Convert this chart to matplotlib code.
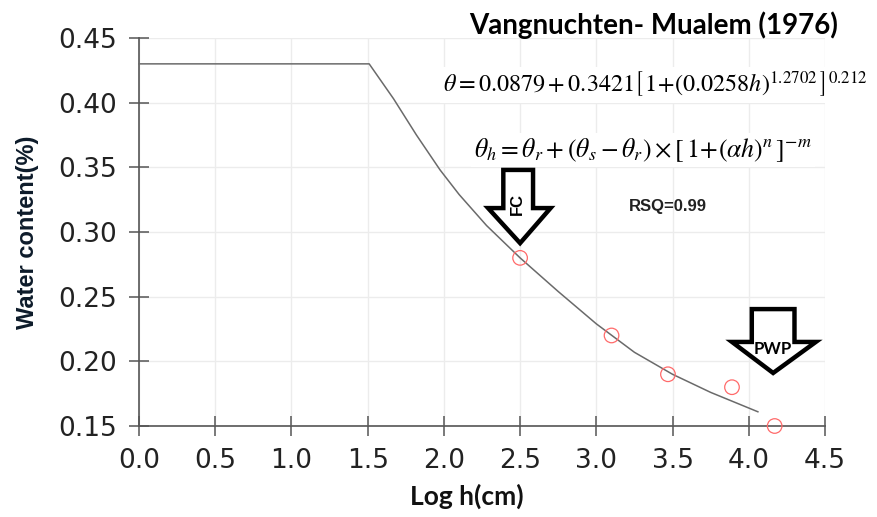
import matplotlib
matplotlib.use("Agg")
import matplotlib.pyplot as plt
from matplotlib.patches import Polygon

# fitted curve
curve_x = [0.0, 1.51, 1.67, 1.82, 1.975, 2.1, 2.28, 2.5, 2.75, 3.0, 3.25, 3.5, 3.75, 4.06]
curve_y = [0.43, 0.43, 0.403, 0.375, 0.348, 0.329, 0.305, 0.28, 0.254, 0.229, 0.207, 0.19, 0.176, 0.161]

# measured points
obs_x = [2.5, 3.1, 3.47, 3.89, 4.17]
obs_y = [0.28, 0.22, 0.19, 0.18, 0.15]

x_ticks = [0.0, 0.5, 1.0, 1.5, 2.0, 2.5, 3.0, 3.5, 4.0, 4.5]
y_ticks = [0.15, 0.20, 0.25, 0.30, 0.35, 0.40, 0.45]

plt.rcParams["mathtext.fontset"] = "stix"

fig = plt.figure(figsize=(8.78, 5.17), dpi=100)
ax = fig.add_axes([0.1583, 0.176, 0.7813, 0.7505])

ax.set_xlim(0, 4.5)
ax.set_ylim(0.15, 0.45)
ax.set_xticks(x_ticks)
ax.set_yticks(y_ticks)
ax.set_xticklabels([f"{v:.1f}" for v in x_ticks])
ax.set_yticklabels([f"{v:.2f}" for v in y_ticks])
ax.grid(True, color="#ececec", linewidth=1)
ax.set_axisbelow(True)

for s in ("top", "right"):
    ax.spines[s].set_visible(False)
for s in ("left", "bottom"):
    ax.spines[s].set_color("#555555")
    ax.spines[s].set_linewidth(1.2)
ax.tick_params(direction="inout", length=14, width=1.1, color="#555555",
               labelsize=19, pad=9, labelcolor="#222222")
for lab in ax.get_xticklabels() + ax.get_yticklabels():
    lab.set_family("DejaVu Sans")

ax.plot(curve_x, curve_y, color="#6a6a6a", linewidth=1.1, clip_on=False, zorder=3)
ax.scatter(obs_x, obs_y, s=110, facecolors="none", edgecolors="#ff6a6a",
           linewidths=0.9, clip_on=False, zorder=4)

ax.set_ylabel("Water content(%)", fontsize=17, fontweight="bold",
              family="Liberation Sans", color="#0d1b2a")
ax.yaxis.set_label_coords(-0.146, 0.5)
ax.set_xlabel("Log h(cm)", fontsize=19, fontweight="bold", family="Lato",
              color="#111111")
ax.xaxis.set_label_coords(0.478, -0.148)

# hollow arrows
def down_arrow(x0, x1, hx0, hx1, tip_x, tip_y, base_y, top_y):
    pts = [(x0, top_y), (x1, top_y), (x1, base_y), (hx1, base_y),
           (tip_x, tip_y), (hx0, base_y), (x0, base_y)]
    ax.add_patch(Polygon(pts, closed=True, facecolor="white", edgecolor="black",
                         linewidth=3.2, joinstyle="miter", zorder=5, clip_on=False))

down_arrow(2.39, 2.585, 2.29, 2.70, 2.50, 0.2914, 0.3185, 0.348)
ax.text(2.485, 0.322, "FC", rotation=90, ha="center", va="center", fontsize=12,
        fontweight="bold", family="Liberation Sans", zorder=6)

down_arrow(4.02, 4.30, 3.89, 4.44, 4.16, 0.191, 0.215, 0.2404)
ax.text(4.16, 0.2095, "PWP", ha="center", va="center", fontsize=12,
        fontweight="bold", family="Lato", zorder=6)

# title and equations
fig.text(654 / 878, 1 - 25 / 517, "Vangnuchten- Mualem (1976)", ha="center",
         va="center", fontsize=20, fontweight="bold", family="Lato")
fig.text(443 / 878, 1 - 85 / 517,
         r"$\theta = 0.0879 + 0.3421\left[\,1\!+\!(0.0258h)^{1.2702}\,\right]^{0.212}$",
         ha="left", va="center", fontsize=17.4,
         bbox=dict(facecolor="white", edgecolor="none", pad=2))
fig.text(643 / 878, 1 - 150 / 517,
         r"$\theta_h = \theta_r + (\theta_s - \theta_r) \times \left[\,1\!+\!(\alpha h)^n\,\right]^{-m}$",
         ha="center", va="center", fontsize=18.5,
         bbox=dict(facecolor="white", edgecolor="none", pad=2))
fig.text(668 / 878, 1 - 207 / 517, "RSQ=0.99", ha="center", va="center",
         fontsize=12, fontweight="bold", family="Liberation Sans", color="#222222")

fig.savefig("out.png", dpi=100)
